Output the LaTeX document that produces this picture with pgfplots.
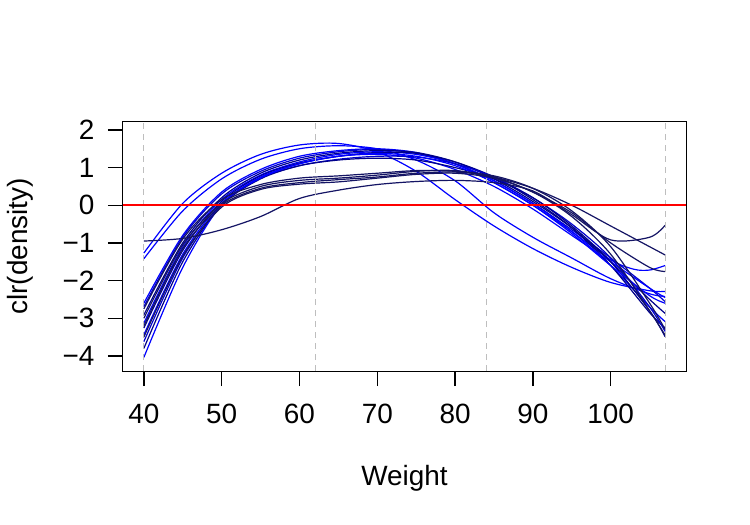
\documentclass[border=0pt]{standalone}
\usepackage{pgfplots}
\pgfplotsset{compat=1.18}
\usepackage{fontspec}
\setmainfont{Liberation Sans}
\definecolor{cB}{RGB}{0,0,255}
\definecolor{cM}{RGB}{0,0,205}
\definecolor{cD}{RGB}{0,0,139}
\definecolor{cN}{RGB}{20,20,100}
\definecolor{cR}{RGB}{255,0,0}
\definecolor{cG}{RGB}{190,190,190}
\newcommand{\fsz}{\fontsize{28}{32}\selectfont}
\pgfplotsset{cv/.style={line width=1.2bp, smooth, mark=none},
  tk/.style={draw=black, line width=1.3bp, mark=none, forget plot}}
\begin{document}
\begin{tikzpicture}
\begin{axis}[
  at={(0,0)}, anchor=south west,
  scale only axis, width=563bp, height=249bp,
  xmin=37.32, xmax=109.68, ymin=-4.4, ymax=2.21,
  xtick={40,50,60,70,80,90,100}, ytick={-4,-3,-2,-1,0,1,2},
  xticklabels={40,50,60,70,80,90,100},
  yticklabels={−4,−3,−2,−1,0,1,2},
  tick align=outside,
  xtick pos=bottom, ytick pos=left,
  major tick length=15bp,
  every tick/.style={black, line width=1.3bp},
  tick label style={font=\fsz},
  xticklabel style={anchor=north, yshift=-15bp},
  yticklabel style={anchor=east, xshift=-10bp},
  axis line style={line width=1bp},
  xlabel={Weight}, ylabel={clr(density)},
  label style={font=\fsz},
  xlabel style={at={(axis description cs:0.5,0)}, anchor=center, yshift=-107bp},
  ylabel style={at={(axis description cs:0,0.5)}, anchor=center, yshift=103bp},
  clip=false,
]
% tick marks
\addplot[tk] coordinates {(40,-4.4)(40,-4.8)};
\addplot[tk] coordinates {(50,-4.4)(50,-4.8)};
\addplot[tk] coordinates {(60,-4.4)(60,-4.8)};
\addplot[tk] coordinates {(70,-4.4)(70,-4.8)};
\addplot[tk] coordinates {(80,-4.4)(80,-4.8)};
\addplot[tk] coordinates {(90,-4.4)(90,-4.8)};
\addplot[tk] coordinates {(100,-4.4)(100,-4.8)};
\addplot[tk] coordinates {(37.32,-4)(35.39,-4)};
\addplot[tk] coordinates {(37.32,-3)(35.39,-3)};
\addplot[tk] coordinates {(37.32,-2)(35.39,-2)};
\addplot[tk] coordinates {(37.32,-1)(35.39,-1)};
\addplot[tk] coordinates {(37.32,0)(35.39,0)};
\addplot[tk] coordinates {(37.32,1)(35.39,1)};
\addplot[tk] coordinates {(37.32,2)(35.39,2)};
% curves
\addplot[cB, cv] coordinates {(40,-1.27)(45,0.05)(50,0.85)(55,1.35)(60,1.6)(65,1.64)(70,1.42)(75,0.9)(80,0.15)(85,-0.55)(90,-1.15)(95,-1.65)(100,-2.05)(105,-2.27)(107,-2.29)};
\addplot[cB, cv] coordinates {(40,-1.42)(45,-0.15)(50,0.7)(55,1.22)(60,1.5)(65,1.58)(70,1.5)(75,1.2)(80,0.65)(85,-0.2)(90,-0.85)(95,-1.4)(100,-1.95)(105,-2.35)(107,-2.42)};
\addplot[cB, cv] coordinates {(40,-2.6)(45,-0.8)(50,0.35)(55,0.95)(60,1.3)(65,1.45)(70,1.5)(75,1.4)(80,1.1)(85,0.6)(90,0.0)(95,-0.7)(100,-1.45)(103,-1.7)(105,-1.72)(107,-1.6)};
\addplot[cM, cv] coordinates {(40,-2.69)(45,-0.85)(50,0.3)(55,0.9)(60,1.25)(65,1.42)(70,1.48)(75,1.38)(80,1.1)(85,0.65)(90,0.05)(95,-0.65)(100,-1.4)(105,-2.2)(107,-2.56)};
\addplot[cD, cv] coordinates {(40,-2.91)(45,-1.0)(50,0.2)(55,0.85)(60,1.2)(65,1.38)(70,1.45)(75,1.4)(80,1.15)(85,0.7)(90,0.1)(95,-0.6)(100,-1.5)(105,-2.5)(107,-2.87)};
\addplot[cB, cv] coordinates {(40,-3.13)(45,-1.1)(50,0.15)(55,0.8)(60,1.15)(65,1.35)(70,1.42)(75,1.35)(80,1.1)(85,0.65)(90,0.05)(95,-0.7)(100,-1.6)(105,-2.7)(107,-3.09)};
\addplot[cD, cv] coordinates {(40,-3.26)(45,-1.2)(50,0.1)(55,0.78)(60,1.12)(65,1.3)(70,1.4)(75,1.38)(80,1.15)(85,0.75)(90,0.15)(95,-0.6)(100,-1.6)(105,-2.85)(107,-3.26)};
\addplot[cB, cv] coordinates {(40,-3.44)(45,-1.3)(50,0.05)(55,0.75)(60,1.1)(65,1.3)(70,1.35)(75,1.25)(80,0.95)(85,0.5)(90,-0.1)(95,-0.8)(100,-1.5)(105,-2.2)(107,-2.45)};
\addplot[cM, cv] coordinates {(40,-3.62)(45,-1.4)(50,0.02)(55,0.72)(60,1.05)(65,1.22)(70,1.3)(75,1.28)(80,1.1)(85,0.75)(90,0.2)(95,-0.5)(100,-1.4)(105,-2.7)(107,-3.35)};
\addplot[cD, cv] coordinates {(40,-3.8)(45,-1.5)(50,0.0)(55,0.7)(60,1.05)(65,1.2)(70,1.25)(75,1.2)(80,1.0)(85,0.7)(90,0.2)(95,-0.55)(100,-1.5)(105,-2.8)(107,-3.49)};
\addplot[cB, cv] coordinates {(40,-4.04)(45,-1.65)(50,0.02)(55,0.72)(60,1.1)(65,1.3)(70,1.38)(75,1.3)(80,1.05)(85,0.6)(90,0.0)(95,-0.75)(100,-1.6)(105,-2.4)(107,-2.6)};
\addplot[cN, cv] coordinates {(40,-2.75)(45,-0.9)(50,0.15)(55,0.55)(60,0.72)(65,0.78)(70,0.85)(75,0.92)(80,0.9)(85,0.75)(90,0.45)(95,0.0)(100,-0.55)(105,-1.1)(107,-1.32)};
\addplot[cN, cv] coordinates {(40,-3.0)(45,-1.05)(50,0.05)(55,0.5)(60,0.66)(65,0.72)(70,0.8)(75,0.9)(80,0.92)(85,0.75)(90,0.35)(95,-0.2)(100,-1.0)(105,-1.65)(107,-1.76)};
\addplot[cN, cv] coordinates {(40,-3.2)(45,-1.15)(50,0.0)(55,0.45)(60,0.6)(65,0.68)(70,0.75)(75,0.85)(80,0.88)(85,0.78)(90,0.45)(95,-0.15)(100,-1.1)(105,-2.6)(107,-3.3)};
\addplot[cN, cv] coordinates {(40,-3.5)(45,-1.35)(50,-0.05)(55,0.42)(60,0.56)(65,0.62)(70,0.72)(75,0.82)(80,0.85)(85,0.72)(90,0.35)(95,-0.3)(100,-1.3)(105,-2.8)(107,-3.45)};
\addplot[cN, cv] coordinates {(40,-0.95)(45,-0.88)(50,-0.65)(55,-0.3)(60,0.18)(65,0.4)(70,0.55)(75,0.63)(80,0.66)(85,0.6)(90,0.38)(95,-0.25)(100,-0.92)(105,-0.85)(107,-0.53)};
\addplot[draw=cG, line width=1bp, dash pattern=on 6bp off 5bp, mark=none] coordinates {(40,-4.4)(40,2.21)};
\addplot[draw=cG, line width=1bp, dash pattern=on 6bp off 5bp, mark=none] coordinates {(62,-4.4)(62,2.21)};
\addplot[draw=cG, line width=1bp, dash pattern=on 6bp off 5bp, mark=none] coordinates {(84,-4.4)(84,2.21)};
\addplot[draw=cG, line width=1bp, dash pattern=on 6bp off 5bp, mark=none] coordinates {(107,-4.4)(107,2.21)};
\addplot[draw=cR, line width=2bp, mark=none] coordinates {(37.32,0)(109.68,0)};
\end{axis}
\path (-123bp,-154bp) rectangle (627bp,371bp);
\end{tikzpicture}
\end{document}
